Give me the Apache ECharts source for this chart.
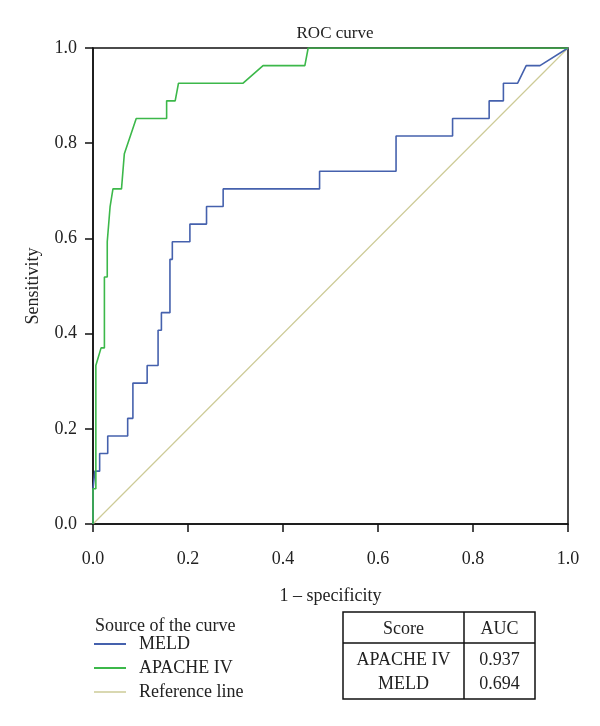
<!DOCTYPE html>
<html>
<head>
<meta charset="utf-8">
<script src="https://cdn.jsdelivr.net/npm/echarts@6/dist/echarts.min.js"></script>
<style>
html,body{margin:0;padding:0;background:#fff;}
#chart{width:600px;height:726px;}
</style>
</head>
<body>
<div id="chart"></div>
<script>
// ---- data ----
var titleText = 'ROC curve';
var xAxisName = '1 \u2013 specificity';
var yAxisName = 'Sensitivity';
var axisTicks = [0, 0.2, 0.4, 0.6, 0.8, 1.0];

var meldFpr = [0, 0, 0.004, 0.004, 0.014, 0.014, 0.031, 0.031, 0.073, 0.073, 0.084, 0.084, 0.114, 0.114, 0.137, 0.137, 0.144, 0.144, 0.162, 0.162, 0.167, 0.167, 0.204, 0.204, 0.239, 0.239, 0.274, 0.274, 0.477, 0.477, 0.638, 0.638, 0.757, 0.757, 0.834, 0.834, 0.864, 0.864, 0.894, 0.912, 0.941, 1.0];
var meldTpr = [0, 0.074, 0.074, 0.111, 0.111, 0.148, 0.148, 0.185, 0.185, 0.222, 0.222, 0.296, 0.296, 0.333, 0.333, 0.407, 0.407, 0.444, 0.444, 0.556, 0.556, 0.593, 0.593, 0.630, 0.630, 0.667, 0.667, 0.704, 0.704, 0.741, 0.741, 0.815, 0.815, 0.852, 0.852, 0.889, 0.889, 0.926, 0.926, 0.963, 0.963, 1.0];

var apacheFpr = [0, 0, 0.006, 0.006, 0.017, 0.024, 0.024, 0.030, 0.030, 0.032, 0.036, 0.042, 0.060, 0.066, 0.091, 0.155, 0.155, 0.173, 0.180, 0.316, 0.358, 0.446, 0.453, 1.0];
var apacheTpr = [0, 0.074, 0.074, 0.333, 0.370, 0.370, 0.519, 0.519, 0.593, 0.593, 0.667, 0.704, 0.704, 0.778, 0.852, 0.852, 0.889, 0.889, 0.926, 0.926, 0.963, 0.963, 1.0, 1.0];

var refX = [0, 1];
var refY = [0, 1];

var legendTitle = 'Source of the curve';
var seriesNames = ['MELD', 'APACHE IV', 'Reference line'];
var seriesColors = ['#4561ad', '#3cb84a', '#cdcb97'];

var tableHeader = ['Score', 'AUC'];
var tableScores = ['APACHE IV', 'MELD'];
var tableAuc = ['0.937', '0.694'];

// ---- build ----
function pairs(xs, ys){ return xs.map(function(x,i){ return [x, ys[i]]; }); }
var FONT = '"Liberation Serif", "DejaVu Serif", serif';
var chart = echarts.init(document.getElementById('chart'), null, {renderer:'canvas'});

var axisCommon = {
  type: 'value', min: 0, max: 1, interval: 0.2,
  nameLocation: 'middle',
  nameTextStyle: {fontFamily: FONT, fontSize: 18, color: '#222'},
  axisLine: {show: true, lineStyle: {color: '#111', width: 1.5}},
  axisTick: {show: true, inside: false, length: 8, lineStyle: {color: '#111', width: 1.5}},
  splitLine: {show: false},
  axisLabel: {fontFamily: FONT, fontSize: 18, color: '#222', formatter: function(v){ return v.toFixed(1); }}
};

var graphics = [];
// legend
graphics.push({type:'text', x: 95, y: 626, style:{text: legendTitle, font: '18px ' + FONT, fill:'#222', textVerticalAlign:'middle'}});
var legendY = [644, 668, 692];
seriesNames.forEach(function(n, i){
  graphics.push({type:'line', shape:{x1:94, y1:legendY[i], x2:126, y2:legendY[i]}, style:{stroke: seriesColors[i], lineWidth: i===2?1.5:2}});
  graphics.push({type:'text', x: 139, y: legendY[i], style:{text: n, font: '18px ' + FONT, fill:'#222', textVerticalAlign:'middle'}});
});
// table
var tL = 343, tR = 535, tM = 464, tT = 612, tS = 643, tB = 699;
graphics.push({type:'rect', shape:{x:tL, y:tT, width:tR-tL, height:tB-tT}, style:{fill:'none', stroke:'#111', lineWidth:1.5}});
graphics.push({type:'line', shape:{x1:tL, y1:tS, x2:tR, y2:tS}, style:{stroke:'#111', lineWidth:1.5}});
graphics.push({type:'line', shape:{x1:tM, y1:tT, x2:tM, y2:tB}, style:{stroke:'#111', lineWidth:1.5}});
var c1 = (tL+tM)/2, c2 = (tM+tR)/2;
graphics.push({type:'text', x:c1, y:629, style:{text: tableHeader[0], font:'18px ' + FONT, fill:'#222', textAlign:'center', textVerticalAlign:'middle'}});
graphics.push({type:'text', x:c2, y:629, style:{text: tableHeader[1], font:'18px ' + FONT, fill:'#222', textAlign:'center', textVerticalAlign:'middle'}});
var rowY = [660, 684];
tableScores.forEach(function(s, i){
  graphics.push({type:'text', x:c1, y:rowY[i], style:{text: s, font:'18px ' + FONT, fill:'#222', textAlign:'center', textVerticalAlign:'middle'}});
  graphics.push({type:'text', x:c2, y:rowY[i], style:{text: tableAuc[i], font:'18px ' + FONT, fill:'#222', textAlign:'center', textVerticalAlign:'middle'}});
});

var option = {
  animation: false,
  backgroundColor: '#fff',
  title: {text: titleText, left: 330, top: 20, textAlign: 'center',
          textStyle: {fontFamily: FONT, fontSize: 17, fontWeight: 'normal', color: '#222'}},
  grid: {left: 93, top: 48, right: 32, bottom: 202, show: true, borderColor: '#111', borderWidth: 1.5, backgroundColor: 'transparent'},
  xAxis: Object.assign({}, axisCommon, {name: xAxisName, nameGap: 63,
          axisLabel: Object.assign({}, axisCommon.axisLabel, {margin: 26})}),
  yAxis: Object.assign({}, axisCommon, {name: yAxisName, nameGap: 51,
          axisLabel: Object.assign({}, axisCommon.axisLabel, {margin: 16})}),
  series: [
    {name: seriesNames[2], type:'line', data: pairs(refX, refY), showSymbol:false, lineStyle:{color: seriesColors[2], width:1.2}, z:1},
    {name: seriesNames[0], type:'line', data: pairs(meldFpr, meldTpr), showSymbol:false, lineStyle:{color: seriesColors[0], width:1.6}, z:2},
    {name: seriesNames[1], type:'line', data: pairs(apacheFpr, apacheTpr), showSymbol:false, lineStyle:{color: seriesColors[1], width:1.6}, z:3}
  ],
  graphic: graphics
};
chart.setOption(option);
</script>
</body>
</html>
